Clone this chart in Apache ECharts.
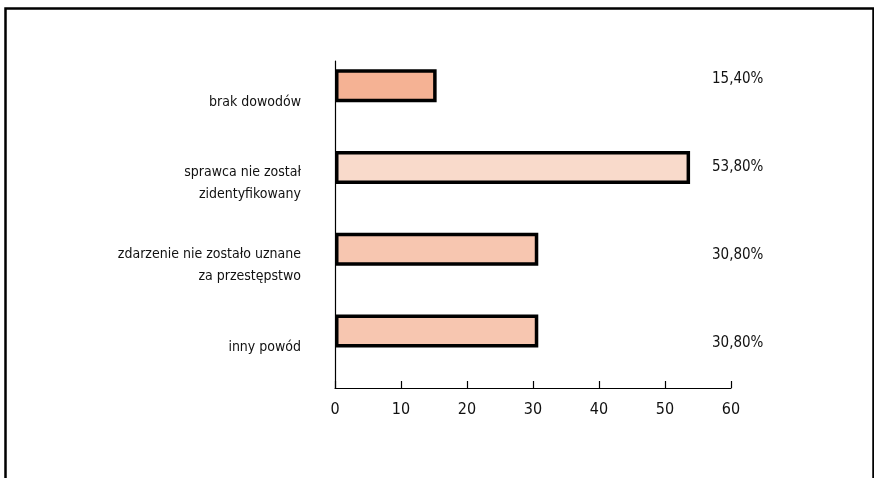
<!DOCTYPE html>
<html>
<head>
<meta charset="utf-8">
<script src="https://cdn.jsdelivr.net/npm/echarts@6/dist/echarts.min.js"></script>
<style>
html,body{margin:0;padding:0;background:#fff;}
#chart{width:874px;height:478px;}
</style>
</head>
<body>
<div id="chart"></div>
<script>
const categories = ['brak dowodów', 'sprawca nie został\nzidentyfikowany', 'zdarzenie nie zostało uznane\nza przestępstwo', 'inny powód'];
const values = [15.4, 53.8, 30.8, 30.8];
const barColors = ['#F5B294', '#F9DACB', '#F7C6B0', '#F7C6B0'];
const xTicks = { min: 0, max: 60, interval: 10 };

const FONT = '"DejaVu Sans Condensed", "Liberation Sans Narrow", sans-serif';
const pctLabels = values.map(v => v.toFixed(2).replace('.', ',') + '%');

const chart = echarts.init(document.getElementById('chart'));
chart.setOption({
  animation: false,
  backgroundColor: '#fff',
  textStyle: { fontFamily: FONT },
  graphic: [{
    type: 'rect', left: 3, top: 6,
    shape: { width: 868, height: 490 },
    style: { fill: 'none', stroke: '#000', lineWidth: 2.5 }
  }],
  grid: [
    { left: 335, right: 143, top: 61, bottom: 90 },
    { left: 335, right: 166, top: 35, height: 352 }
  ],
  xAxis: [
    {
      gridIndex: 0, type: 'value', min: xTicks.min, max: xTicks.max, interval: xTicks.interval,
      axisLine: { show: true, lineStyle: { color: '#000', width: 1.2 } },
      axisTick: { show: true, inside: true, length: 7, lineStyle: { color: '#000', width: 1.2 } },
      splitLine: { show: false },
      axisLabel: { color: '#111', fontSize: 16, margin: 14, fontFamily: FONT }
    },
    { gridIndex: 1, type: 'value', show: false, min: 0, max: 1 }
  ],
  yAxis: [
    {
      gridIndex: 0, type: 'category', data: categories, inverse: true,
      axisLine: { show: true, lineStyle: { color: '#000', width: 1.2 } },
      axisTick: { show: false },
      axisLabel: { color: '#111', fontSize: 14, lineHeight: 22, margin: 34, align: 'right', fontFamily: FONT }
    },
    {
      gridIndex: 1, type: 'category', data: pctLabels, inverse: true, position: 'right',
      axisLine: { show: false }, axisTick: { show: false },
      axisLabel: { color: '#111', fontSize: 15, margin: 4, align: 'left', fontFamily: FONT }
    }
  ],
  series: [
    {
      type: 'bar', xAxisIndex: 0, yAxisIndex: 0,
      data: values.map((v, i) => ({ value: v, itemStyle: { color: barColors[i] } })),
      barWidth: 33, barGap: '-3%',
      itemStyle: { borderColor: '#000', borderWidth: 3.5 }
    },
    {
      type: 'bar', xAxisIndex: 0, yAxisIndex: 0,
      data: categories.map(() => null),
      barWidth: 33
    }
  ]
});
</script>
</body>
</html>
